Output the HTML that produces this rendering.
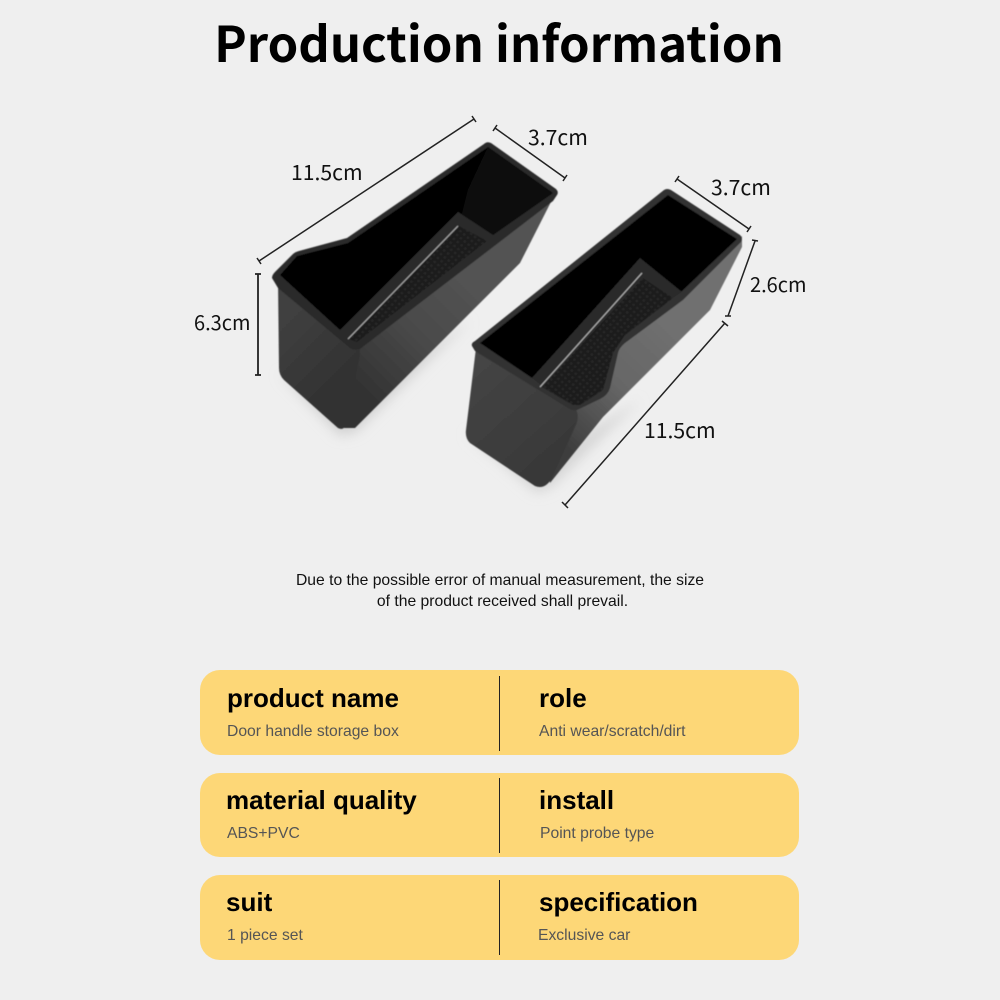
<!DOCTYPE html>
<html><head><meta charset="utf-8">
<style>
html,body{margin:0;padding:0;background:#efefef}
#p{position:relative;width:1000px;height:1000px;overflow:hidden;background:#efefef}
svg{position:absolute;left:0;top:0}
.card{position:absolute;left:200px;width:599px;background:#fdd777;border-radius:20px}
.t{position:absolute;font:bold 26px/30px "Liberation Sans",sans-serif;color:#000;white-space:nowrap}
.s{position:absolute;font:15.7px/18px "Liberation Sans",sans-serif;color:#555;white-space:nowrap}
.d{position:absolute;left:499px;width:1.2px;background:#222}
.n{position:absolute;left:200px;width:600px;text-align:center;font:15.7px/21px "Liberation Sans",sans-serif;color:#111}
.n span{position:relative;left:2.5px}
</style></head><body><div id="p">
<svg width="1000" height="1000" viewBox="0 0 1000 1000">
<defs>
<filter id="b1" x="-5%" y="-5%" width="110%" height="110%"><feGaussianBlur stdDeviation="0.6"/></filter>
<filter id="b2" x="-30%" y="-30%" width="160%" height="160%"><feGaussianBlur stdDeviation="6"/></filter>
<linearGradient id="f1" gradientUnits="userSpaceOnUse" x1="280" y1="320" x2="350" y2="390"><stop offset="0" stop-color="#404040"/><stop offset="1" stop-color="#303030"/></linearGradient>
<linearGradient id="s1" gradientUnits="userSpaceOnUse" x1="360" y1="400" x2="470" y2="290"><stop offset="0" stop-color="#303030"/><stop offset=".6" stop-color="#4b4b4b"/><stop offset="1" stop-color="#525252"/></linearGradient>
<linearGradient id="f2" gradientUnits="userSpaceOnUse" x1="480" y1="370" x2="560" y2="460"><stop offset="0" stop-color="#444"/><stop offset="1" stop-color="#383838"/></linearGradient>
<linearGradient id="s2" gradientUnits="userSpaceOnUse" x1="565" y1="450" x2="680" y2="330"><stop offset="0" stop-color="#3c3c3c"/><stop offset=".5" stop-color="#666"/><stop offset="1" stop-color="#707070"/></linearGradient>
<pattern id="tx" width="5" height="5" patternUnits="userSpaceOnUse" patternTransform="rotate(40)"><rect width="5" height="5" fill="#1a1a1a"/><rect width="2.5" height="2.5" fill="#282828"/></pattern>
</defs>

<!-- shadows -->
<polygon points="279,373 340,436 356,432 470,320 340,405" fill="#d2d2d2" filter="url(#b2)"/>
<polygon points="466,433 537,493 552,487 640,400 540,460" fill="#d6d6d6" filter="url(#b2)"/>

<!-- LEFT BOX -->
<g filter="url(#b1)">
<path d="M350,345 L557,190 L520,263 L355,428 L344,428 Z" fill="url(#s1)"/>
<path d="M278,280 L359,346 Q361,352 359,360 L346,424 Q344,431 338,428 L284,380 Q279,375 279,368 Z" fill="url(#f1)"/>
<path d="M272,278 Q272,275 275,272 L293,254 Q295,252 299,251 L347,238 L484,144 Q487,141 491,143 L556,189 Q559,192 557,195 L553,201 L360,349 Q355,351 350,348 L278,288 Z" fill="#2c2c2c"/>
<polygon points="280,275 297,256 348,243 488,147 553,193 493,235 458,212 340,330" fill="#060606"/>
<polygon points="488,147 553,193 493,235 462,214 468,190" fill="#0c0c0c"/>
<polygon points="340,330 458,212 493,235 357,345 347,340" fill="#2a2a2a"/>
<polygon points="349,339 459,226 487,241 357,342" fill="url(#tx)"/>
<line x1="458" y1="226" x2="348" y2="339" stroke="#b0b0b0" stroke-width="1"/>
</g>

<!-- RIGHT BOX -->
<g filter="url(#b1)">
<path d="M570,405 L597,392 L612,345 L623,335 L682,290 L742,236 L742,247 L710,310 L603,417 L550,483 L545,440 Z" fill="url(#s2)"/>
<path d="M476,348 L575,408 Q580,415 576,425 L552,478 Q545,490 535,486 L470,443 Q465,438 466,430 Z" fill="url(#f2)"/>
<path d="M472,346 Q471,343 475,341 L664,190 Q667,188 671,190 L740,235 Q743,238 741,242 L683,300 L625,343 Q619,348 618,353 L610,388 Q608,395 600,399 L577,410 Q573,411 568,408 L475,351 Z" fill="#333"/>
<polygon points="480,343 668,195 737,239 681,292 640,260 532,378" fill="#060606"/>
<polygon points="532,378 640,258 682,292 673,298 643,278 542,386" fill="#2c2c2c"/>
<polygon points="542,387 643,278 673,298 625,335 613,353 603,390 580,405 573,405" fill="url(#tx)"/>
<line x1="642" y1="273" x2="540" y2="387" stroke="#bbb" stroke-width="1"/>
</g>

<!-- dimension lines -->
<g stroke="#222" stroke-width="1.5" fill="none">
<path d="M259,261 L474,119 M257,258 L261,264 M472,116 L476,122"/>
<path d="M495,128 L565,178 M493,131 L497,125 M563,181 L567,175"/>
<path d="M258,274 V375 M255,274 H261 M255,375 H261" stroke-width="1.8"/>
<path d="M677,179 L749,229 M675,182 L679,176 M747,232 L751,226"/>
<path d="M755,241 L728,316 M752,240 L758,241 M725,316 L731,316"/>
<path d="M725,323 L565,505 M722,321 L728,326 M562,502 L568,508"/>
</g>

<g font-family="'Noto Sans CJK SC','Liberation Sans',sans-serif" font-size="21.2" fill="#111">
<text x="291" y="180">11.5cm</text>
<text x="528" y="145">3.7cm</text>
<text x="194" y="330" font-size="20">6.3cm</text>
<text x="711" y="195">3.7cm</text>
<text x="750" y="292" font-size="20">2.6cm</text>
<text x="644" y="438">11.5cm</text>
</g>
<text x="499" y="62" text-anchor="middle" font-family="'Noto Sans CJK SC','Liberation Sans',sans-serif" font-weight="700" font-size="49" fill="#000">Production information</text>
</svg>

<div class="n" style="top:570px">Due to the possible error of manual measurement, the size<br><span>of the product received shall prevail.</span></div>

<div class="card" style="top:670px;height:85px"></div>
<div class="card" style="top:773px;height:84px"></div>
<div class="card" style="top:875px;height:85px"></div>
<div class="d" style="top:676px;height:75px"></div>
<div class="d" style="top:778px;height:75px"></div>
<div class="d" style="top:880px;height:75px"></div>

<div class="t" style="left:227px;top:683px">product name</div>
<div class="s" style="left:227px;top:723px">Door handle storage box</div>
<div class="t" style="left:539px;top:683px">role</div>
<div class="s" style="left:539px;top:723px">Anti wear/scratch/dirt</div>

<div class="t" style="left:226px;top:785px">material quality</div>
<div class="s" style="left:227px;top:825px">ABS+PVC</div>
<div class="t" style="left:539px;top:785px">install</div>
<div class="s" style="left:540px;top:825px">Point probe type</div>

<div class="t" style="left:226px;top:887px">suit</div>
<div class="s" style="left:227px;top:927px">1 piece set</div>
<div class="t" style="left:539px;top:887px">specification</div>
<div class="s" style="left:538px;top:927px">Exclusive car</div>
</div></body></html>
